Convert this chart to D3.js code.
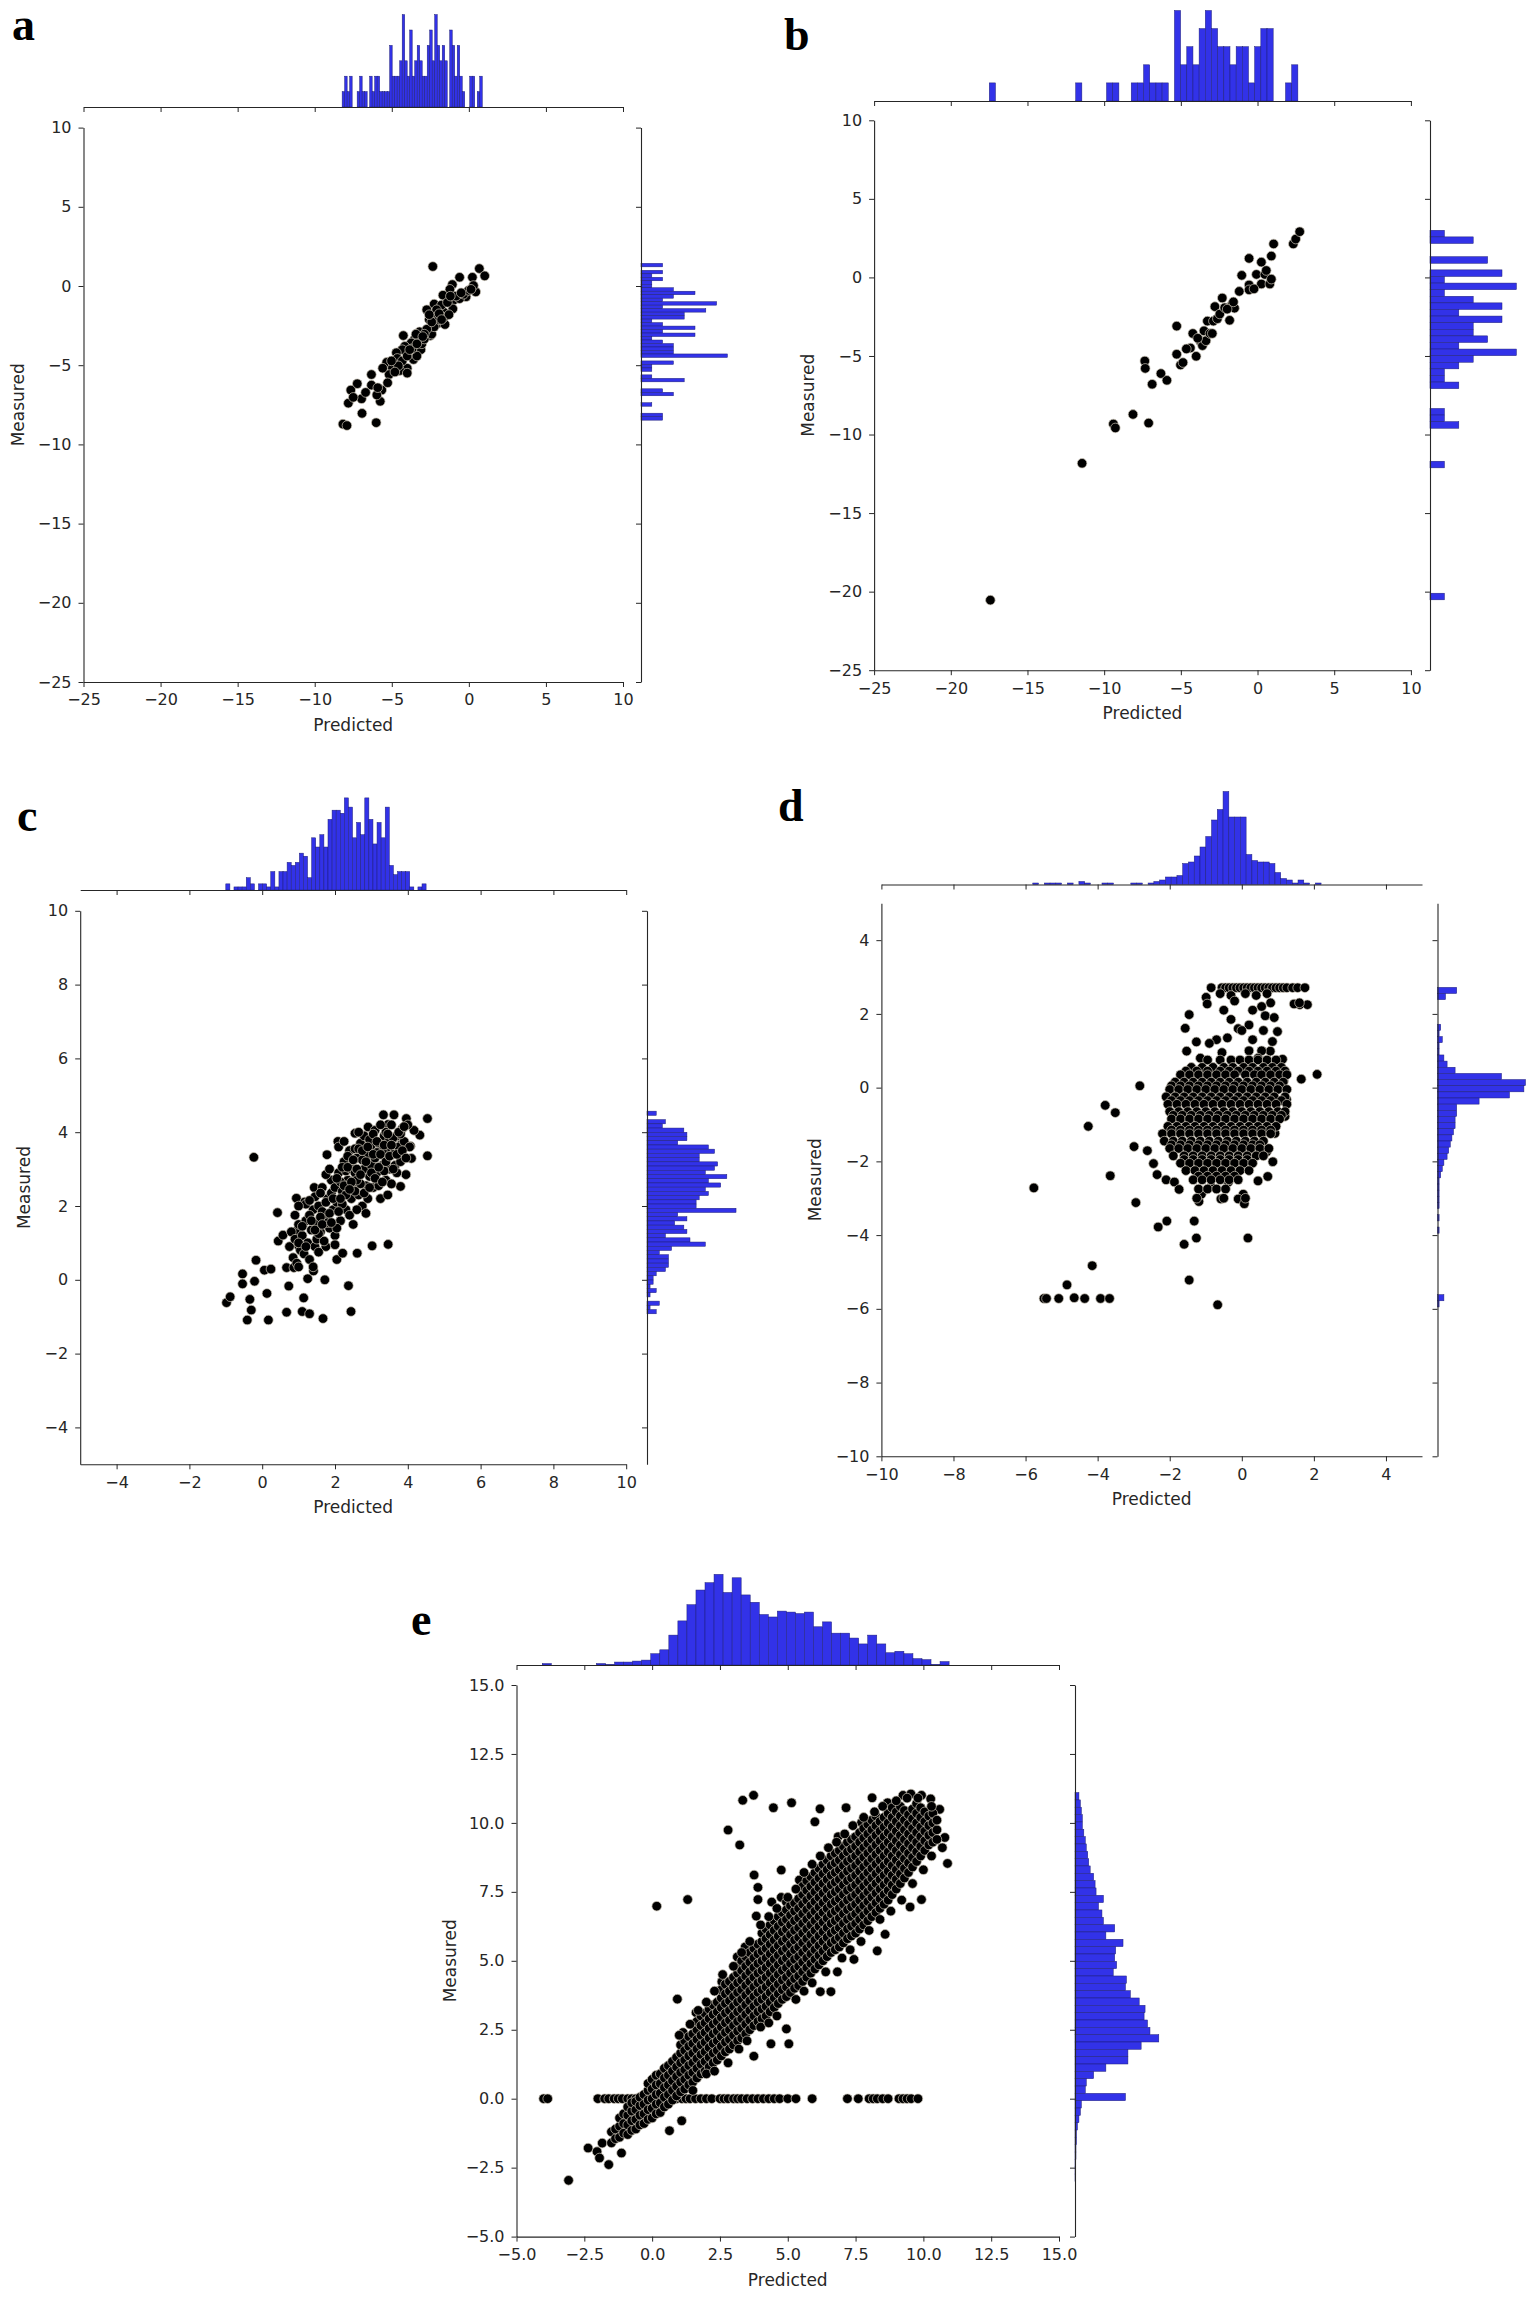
<!DOCTYPE html>
<html><head><meta charset="utf-8">
<script src="https://cdn.jsdelivr.net/npm/d3@7"></script>
<style>body{margin:0;background:#fff;} svg{display:block;background:#fff;}</style>
</head><body>
<svg id="chart" width="1534" height="2299"></svg>
<script>
// ---------------- DATA ----------------
const ticksAB = [-25,-20,-15,-10,-5,0,5,10];
const ticksC = [-4,-2,0,2,4,6,8,10];
const ticksD = [-10,-8,-6,-4,-2,0,2,4];
const ticksE = [-5,-2.5,0,2.5,5,7.5,10,12.5,15];

// panel a
const aPoints = [[-2.34,1.23],[-0.6,0.55],[0.23,0.55],[0.68,1.1],[1.03,0.64],[0.45,-0.37],[-0.18,-0.68],[-1.07,0.09],[-1.23,-0.21],[-1.68,-0.58],[-0.98,-0.89],[-0.6,-0.8],[-1.04,-1.44],[-1.61,-1.66],[-2.25,-1.14],[-2.73,-1.5],[-1.77,-1.2],[-2.19,-1.81],[-2.57,-2.12],[-2.0,-2.36],[-1.55,-2.43],[-2.5,-3.13],[-3.2,-2.89],[-3.52,-3.35],[-4.25,-3.13],[-3.74,-3.59],[-4.16,-3.81],[-3.11,-4.02],[-3.59,-4.64],[-4.32,-4.02],[-4.7,-4.21],[-4.7,-4.64],[-5.33,-4.82],[-4.96,-5.19],[-5.17,-5.59],[-4.0,-5.19],[-4.48,-5.34],[-6.32,-5.59],[-5.65,-6.57],[-5.75,-7.28],[-5.97,-6.88],[-6.32,-6.26],[-6.96,-7.12],[-7.24,-6.17],[-7.66,-6.57],[-7.82,-7.4],[-6.93,-8.04],[-6.01,-8.63],[-8.17,-8.72],[-7.91,-8.81],[-4.64,-4.57],[-4.32,-4.73],[-4.0,-4.42],[-3.37,-4.42],[-3.68,-3.96],[-3.05,-3.65],[-2.89,-3.35],[-2.41,-3.04],[-2.25,-2.58],[-1.93,-2.12],[-1.61,-1.97],[-1.29,-1.81],[-1.39,-1.04],[-0.82,-0.64],[-0.34,-0.52],[-0.02,-0.28],[0.3,0.03],[-4.0,-5.5],[-4.57,-5.04],[-5.02,-4.73],[-2.73,-2.73],[-2.41,-2.27],[-2.09,-1.5],[-0.5,-0.43],[0.14,-0.21],[-1.2,-0.64],[-2.89,-3.04],[-3.84,-4.02],[-3.37,-3.65],[-3.43,-3.04],[-2.99,-3.19],[-4.8,-5.43],[-5.59,-5.19],[-5.27,-6.11],[-5.91,-6.42],[-7.5,-7.03],[-6.7,-6.72],[-2.57,-1.81],[-1.93,-1.75],[-1.77,-2.12]];
const aTopLo = -8.22, aTopW = 0.1623;
const aTopCounts = [1,2,1,2,0,0,1,2,1,1,0,2,1,2,2,1,1,1,1,4,2,2,2,3,6,3,2,5,2,3,4,3,2,2,4,5,3,6,4,3,4,3,0,5,4,2,4,2,1,0,0,2,2,0,1,2];
const aRightHi = 1.43, aRightW = 0.22;   // counts listed from the highest bin downwards
const aRightCounts = [2,0,2,1,2,1,1,3,5,3,2,7,2,6,4,4,1,2,5,2,5,1,2,3,3,3,8,0,3,1,1,0,1,4,0,0,2,3,0,0,1,0,0,2,2];

// panel b
const bPoints = [[-17.42,-20.54],[-11.44,-11.83],[-9.4,-9.33],[-9.27,-9.58],[-7.1,-9.27],[-8.12,-8.72],[-7.35,-5.32],[-7.32,-5.79],[-6.87,-6.8],[-6.3,-6.12],[-5.91,-6.55],[-5.27,-3.1],[-5.27,-4.89],[-5.02,-5.57],[-4.86,-5.42],[-4.38,-4.49],[-4.22,-3.57],[-4.0,-5.02],[-3.75,-4.03],[-3.59,-4.34],[-3.49,-3.4],[-3.36,-4.03],[-3.27,-2.78],[-3.1,-3.57],[-2.95,-3.57],[-2.88,-2.78],[-2.78,-1.86],[-2.62,-2.63],[-2.46,-2.33],[-2.3,-1.31],[-2.14,-1.93],[-1.82,-2.73],[-1.66,-1.71],[-1.5,-1.96],[-1.57,-1.56],[-1.19,-0.89],[-1.03,0.13],[-0.55,1.21],[-0.55,-0.48],[-0.55,-0.79],[-0.07,0.19],[0.25,0.97],[0.25,-0.42],[0.48,0.19],[0.57,0.44],[0.8,-0.42],[0.9,-0.11],[0.9,1.36],[1.05,2.13],[2.33,2.13],[2.49,2.44],[2.75,2.91],[-4.64,-4.55],[-3.9,-3.87],[-1.98,-2.02],[-0.23,-0.73]];
const bTopLo = -17.49, bTopW = 0.4024;
const bTopCounts = [1,0,0,0,0,0,0,0,0,0,0,0,0,0,1,0,0,0,0,1,1,0,0,1,1,2,1,1,1,0,5,2,3,2,4,5,4,3,3,2,3,3,1,3,4,4,0,0,1,2];
const bRightHi = 3.0, bRightW = 0.42;
const bRightCounts = [1,3,0,0,4,0,5,1,6,1,3,5,2,5,3,3,4,2,6,3,2,1,1,2,0,0,0,1,1,2,0,0,0,0,0,1,0,0,0,0,0,0,0,0,0,0,0,0,0,0,0,0,0,0,0,1];

// panel c
const cOutliers = [[-0.23,3.32],[-0.98,-0.62],[-0.88,-0.46],[-0.54,0.16],[-0.54,-0.11],[-0.41,-1.09],[-0.34,-0.53],[-0.3,-0.82],[-0.21,-0.04],[-0.17,0.53],[0.13,-0.37],[0.17,-1.09],[0.06,0.26],[0.24,0.29],[0.42,1.82],[0.44,1.05],[0.57,1.21],[0.67,0.33],[0.67,-0.88],[0.73,-0.17],[0.87,0.33],[0.94,1.32],[0.94,2.21],[1.0,0.92],[1.1,-0.86],[1.14,-0.49],[1.17,2.11],[1.25,0.03],[1.3,-0.92],[1.41,0.24],[1.43,2.5],[1.67,-1.05],[1.72,0.0],[1.78,3.39],[2.05,0.55],[2.21,0.72],[2.37,-0.16],[2.44,-0.86],[2.61,0.72],[3.02,0.92],[3.46,0.96],[3.8,2.53],[4.1,3.29],[4.54,3.36],[4.54,4.37],[4.33,3.92],[3.96,4.37],[3.62,4.47],[3.33,4.47],[2.91,4.14],[2.55,3.97],[2.08,3.75],[3.46,4.21],[4.17,4.05],[4.07,3.62],[3.83,3.68]];
const cCloud = [[0.75,0.9],[0.8,1.3],[0.85,0.6],[0.9,1.1],[0.95,0.45],[1.0,1.5],[0.9,1.75],[1.05,0.8],[1.0,0.35],[1.1,1.2],[1.15,0.7],[1.2,1.6],[1.25,1.0],[1.3,0.55],[1.35,1.35],[1.4,1.9],[1.45,0.9],[1.2,2.05],[1.3,1.75],[1.5,1.55],[1.4,0.35],[1.1,1.45],[1.5,1.1],[1.45,2.25],[1.55,2.0],[1.6,1.3],[1.65,2.5],[1.7,1.7],[1.75,0.9],[1.8,2.2],[1.85,1.4],[1.9,2.7],[1.95,1.9],[1.6,2.35],[1.7,1.05],[1.8,1.55],[1.9,2.35],[2.0,1.2],[1.75,2.85],[1.55,0.75],[1.65,1.85],[1.85,3.0],[2.0,2.5],[2.05,2.1],[2.1,2.9],[2.15,1.6],[2.2,2.4],[2.25,3.2],[2.3,1.9],[2.35,2.7],[2.4,3.5],[2.45,2.2],[2.5,1.5],[2.1,3.6],[2.2,2.05],[2.3,2.95],[2.4,1.75],[2.45,3.0],[2.05,1.4],[2.15,2.65],[2.35,3.35],[2.5,2.6],[2.25,3.75],[2.0,0.95],[2.55,2.9],[2.6,3.3],[2.65,2.3],[2.7,3.7],[2.75,2.0],[2.8,3.0],[2.85,2.55],[2.9,3.4],[2.95,2.8],[3.0,3.65],[2.6,1.9],[2.7,2.6],[2.8,3.9],[2.9,2.2],[3.0,3.1],[2.55,3.55],[2.65,4.0],[2.75,3.25],[2.85,1.8],[2.95,3.8],[2.6,2.7],[3.05,2.5],[3.1,3.3],[3.15,2.9],[3.2,3.7],[3.25,2.2],[3.3,3.1],[3.35,3.9],[3.4,2.7],[3.45,3.5],[3.5,3.0],[3.1,4.05],[3.2,2.55],[3.3,3.5],[3.4,4.0],[3.45,2.3],[3.05,3.95],[3.15,3.45],[3.25,4.2],[3.35,2.95],[3.5,3.8],[3.55,2.6],[3.6,3.4],[3.65,3.1],[3.7,3.9],[3.75,3.6],[3.8,3.2],[3.85,4.1],[3.9,3.75],[3.95,2.85],[4.0,4.2],[3.6,3.85],[3.7,2.9],[3.55,4.2],[3.8,3.95],[4.05,3.6],
 [1.0,1.0],[1.2,0.9],[1.35,1.6],[1.55,1.25],[1.6,1.7],[1.75,2.1],[1.85,1.8],[1.95,2.2],[2.05,2.75],[2.1,1.85],[2.2,3.05],[2.25,2.55],[2.3,2.3],[2.35,3.05],[2.45,2.65],[2.5,3.25],[2.55,2.4],[2.6,3.0],[2.65,3.55],[2.7,2.85],[2.75,3.5],[2.8,2.35],[2.85,3.2],[2.9,3.6],[2.95,2.5],[3.0,2.9],[3.05,3.4],[3.1,2.75],[3.15,3.75],[3.2,3.05],[3.25,3.4],[3.3,2.65],[3.35,3.65],[3.4,3.2],[3.45,3.95],[3.5,3.35],[3.55,3.65],[3.6,3.0],[3.7,3.4],[3.75,4.0],[3.85,3.5],[3.9,4.15],[3.95,3.3],[1.45,1.35],[1.65,1.5],[1.9,1.55],[2.15,2.2],[2.4,2.45],[1.3,2.15],[1.0,2.0]];
const cTopLo = -1.0, cTopW = 0.1123;
const cTopCounts = [2,0,1,1,1,4,2,0,2,2,1,6,1,6,6,9,8,9,12,11,4,17,14,18,14,23,26,26,25,30,27,17,22,18,30,23,15,22,17,27,8,5,6,6,6,1,0,1,2];
const cRightHi = 4.57, cRightW = 0.1144;
const cRightCounts = [3,0,6,5,12,13,13,10,20,22,17,17,23,22,19,26,20,24,19,20,17,16,16,29,10,13,9,12,13,6,14,19,8,4,7,7,7,6,3,2,2,1,3,1,0,4,1,3];

// panel d
const dOutliers = [[-5.77,-2.72],[-5.49,-5.72],[-5.42,-5.72],[-5.08,-5.72],[-4.85,-5.35],[-4.65,-5.7],[-4.36,-5.72],[-4.15,-4.83],[-3.92,-5.72],[-3.67,-5.72],[-4.26,-1.05],[-3.79,-0.48],[-3.51,-0.68],[-3.65,-2.39],[-2.83,0.05],[-2.99,-1.6],[-2.94,-3.12],[-2.62,-1.71],[-2.45,-2.06],[-2.35,-2.36],[-2.32,-3.78],[-2.08,-3.62],[-2.1,-2.5],[-1.6,-4.25],[-1.32,-3.62],[-1.26,-4.08],[-1.46,-5.22],[-0.67,-5.89],[0.17,-4.08],[0.04,-2.89],[-0.1,-3.02],[0.07,-3.15],[0.86,-2.01],[0.72,-2.41],[1.65,0.23],[2.09,0.36],[1.61,2.25],[1.82,2.25],[-1.46,1.98],[-1.57,1.61],[-1.53,0.99],[-1.26,1.24],[-0.99,2.45],[-0.96,2.27],[0.99,1.52],[0.79,0.99],[1.13,0.77],[1.16,0.18],[1.24,-0.32],[1.2,-0.78],[-1.19,-3.09],[-1.12,-2.89],[-0.85,-2.69],[-0.58,-3.02],[-0.37,-2.56],[0.45,-2.53],[0.69,-1.74],[0.92,-1.24],[-1.87,-2.56],[-1.74,-2.76]];
const dTopLineY = 2.71;
const dTopLineX = [-0.85,-0.55,-0.45,-0.35,-0.25,-0.15,-0.05,0.05,0.15,0.25,0.35,0.45,0.55,0.65,0.75,0.85,0.95,1.05,1.15,1.25,1.41,1.55,1.75];
const dNearTop = [[-0.6,2.55],[-0.3,2.5],[0.1,2.55],[0.4,2.5],[0.7,2.55],[0.8,2.3],[0.55,2.2],[0.3,2.1],[-0.2,2.35],[-0.5,2.1],[0.2,1.7],[0.65,1.95],[-0.1,1.6],[0.9,1.9],[-0.4,1.35],[-0.7,1.3],[0.0,1.55],[0.3,1.3],[0.55,1.0],[0.85,1.25],[0.6,1.55],[-0.3,1.85],[-0.9,1.2],[-1.15,0.8],[0.2,1.0],[0.45,0.8],[-0.55,0.95],[1.45,2.27],[1.6,2.3]];
const dCloudRows = [
 [0.75,[-0.95,-0.6,-0.3,-0.05,0.2,0.45,0.7,0.95]],
 [0.55,[-1.4,-1.1,-0.8,-0.5,-0.25,0.05,0.3,0.6,0.85,1.1]],
 [0.45,[-1.55,-1.25,-0.95,-0.6,-0.35,-0.1,0.2,0.45,0.7,0.95,1.2]],
 [0.35,[-1.7,-1.45,-1.2,-0.95,-0.7,-0.45,-0.2,0.1,0.35,0.55,0.8,1.05,1.25]],
 [0.15,[-1.85,-1.6,-1.35,-1.1,-0.85,-0.6,-0.35,-0.1,0.15,0.4,0.65,0.9,1.15]],
 [0.05,[-1.95,-1.7,-1.45,-1.2,-0.95,-0.7,-0.45,-0.2,0.05,0.3,0.55,0.8,1.05]],
 [-0.05,[-2.0,-1.75,-1.5,-1.25,-1.0,-0.75,-0.5,-0.25,0.0,0.25,0.5,0.75,1.0,1.25]],
 [-0.25,[-2.1,-1.85,-1.6,-1.35,-1.1,-0.85,-0.6,-0.35,-0.1,0.15,0.4,0.65,0.9,1.2]],
 [-0.35,[-1.95,-1.7,-1.45,-1.2,-0.95,-0.7,-0.45,-0.2,0.05,0.3,0.55,0.8,1.1]],
 [-0.45,[-2.05,-1.8,-1.55,-1.3,-1.05,-0.8,-0.55,-0.3,-0.05,0.2,0.45,0.7,0.95,1.25]],
 [-0.65,[-2.0,-1.75,-1.5,-1.25,-1.0,-0.75,-0.5,-0.25,0.0,0.25,0.5,0.75,1.0,1.2]],
 [-0.75,[-1.9,-1.65,-1.4,-1.15,-0.9,-0.65,-0.4,-0.15,0.1,0.35,0.6,0.85,1.1]],
 [-0.85,[-1.95,-1.7,-1.45,-1.2,-0.95,-0.7,-0.45,-0.2,0.05,0.3,0.55,0.8,1.05]],
 [-1.05,[-2.05,-1.8,-1.55,-1.3,-1.05,-0.8,-0.55,-0.3,-0.05,0.2,0.45,0.7,0.95]],
 [-1.15,[-1.95,-1.7,-1.45,-1.2,-0.95,-0.7,-0.45,-0.2,0.05,0.3,0.55,0.8]],
 [-1.25,[-2.2,-1.95,-1.7,-1.45,-1.2,-0.95,-0.7,-0.45,-0.2,0.05,0.3,0.55,0.8]],
 [-1.45,[-2.15,-1.9,-1.65,-1.4,-1.15,-0.9,-0.65,-0.4,-0.15,0.1,0.35,0.6]],
 [-1.55,[-1.95,-1.7,-1.45,-1.2,-0.95,-0.7,-0.45,-0.2,0.05,0.3,0.5]],
 [-1.65,[-2.0,-1.75,-1.5,-1.25,-1.0,-0.75,-0.5,-0.25,0.0,0.25,0.5,0.75]],
 [-1.85,[-1.9,-1.6,-1.35,-1.1,-0.85,-0.6,-0.35,-0.1,0.15,0.4,0.6]],
 [-1.95,[-1.6,-1.35,-1.1,-0.85,-0.6,-0.35,-0.1,0.15]],
 [-2.05,[-1.7,-1.45,-1.2,-0.95,-0.7,-0.45,-0.2,0.05,0.3]],
 [-2.25,[-1.55,-1.3,-1.05,-0.8,-0.55,-0.3,-0.05,0.2]],
 [-2.4,[-1.2,-0.95,-0.7,-0.45,-0.2]],
 [-2.5,[-1.35,-1.1,-0.85,-0.6,-0.35,-0.1]],
 [-2.75,[-1.2,-0.95,-0.7,-0.45]],
 [-3.0,[-1.25,-0.5,0.1]]
];
const dTopLo = -5.8, dTopW = 0.16;
const dTopCounts = [1,0,1,1,1,0,1,0,2,1,0,0,1,1,0,0,0,1,1,0,1,2,3,5,5,6,14,15,19,25,32,43,50,62,45,45,45,20,16,15,15,14,8,4,3,1,3,1,0,1];
const dRightHi = 2.72, dRightW = 0.1667;
const dRightCounts = [12,5,0,0,0,0,2,1,3,1,1,4,6,11,40,55,54,45,26,12,12,11,11,10,9,8,7,6,4,3,2,1,1,1,1,1,0,1,0,1,0,0,0,0,0,0,0,0,0,0,4,1];

// panel e
const eOutliers = [[-3.08,-2.96],[-2.36,-1.79],[-2.03,-1.92],[-1.94,-2.15],[-1.6,-2.39],[-1.84,-1.61],[-1.13,-1.97],[0.93,3.61],[0.17,6.98],[1.31,7.22],[2.8,9.74],[3.23,9.2],[3.34,10.82],[3.74,11.0],[3.76,8.11],[3.9,7.66],[3.9,7.22],[4.47,10.55],[5.14,10.73],[4.76,8.29],[3.84,6.62],[4.76,7.3],[4.41,7.13],[4.95,7.13],[5.43,7.93],[6.0,10.04],[6.19,10.51],[6.86,9.5],[7.15,10.55],[7.72,10.01],[8.11,10.91],[8.68,10.73],[9.25,11.0],[9.54,11.05],[9.93,11.0],[10.27,10.87],[10.6,10.49],[10.79,9.47],[10.89,8.53],[9.93,7.22],[9.51,6.95],[8.59,5.96],[8.3,5.36],[7.44,5.05],[6.83,4.6],[6.2,3.88],[6.59,3.88],[4.95,2.53],[5.04,1.99],[4.38,1.99],[3.75,1.54],[3.05,2.44],[1.14,2.4],[1.62,3.12],[2.57,4.24],[3.14,5.14],[3.43,5.5],[0.64,-1.16],[1.09,-0.8]];
const eEdge = [[1.5,0.3],[2.0,0.9],[2.3,1.0],[2.8,1.3],[3.2,1.8],[3.5,2.1],[4.0,2.6],[4.3,2.75],[4.6,3.0],[5.3,3.6],[5.6,3.9],[5.9,4.2],[6.4,4.6],[7.0,5.1],[7.3,5.4],[7.7,5.7],[8.0,6.1],[8.4,6.5],[8.8,6.8],[9.2,7.2],[9.6,7.8],[10.0,8.3],[10.3,8.8],[10.7,9.1],
 [1.0,2.3],[1.4,2.7],[1.7,3.2],[2.0,3.5],[2.3,3.9],[2.6,4.5],[3.0,4.8],[3.3,5.3],[3.6,5.7],[4.0,6.3],[4.3,6.6],[4.6,6.9],[5.0,7.3],[5.3,7.6],[5.6,8.2],[5.9,8.5],[6.2,8.8],[6.5,9.1],[6.8,9.3],[7.1,9.6],[7.4,9.9],[7.8,10.2],[8.2,10.4],[8.5,10.6],[9.0,10.8],[9.4,10.9],[9.8,10.9],[10.3,10.6]];
const eZeroX = [-4.0,-3.85,-2.0,-1.75,-1.6,-1.4,-1.25,-1.1,-0.9,-0.75,-0.6,-0.45,-0.3,-0.15,0.0,0.15,0.3,0.55,0.75,0.9,1.1,1.25,1.4,1.6,1.8,2.0,2.2,2.5,2.65,2.8,3.0,3.15,3.3,3.5,3.7,3.9,4.1,4.3,4.5,4.7,5.0,5.3,5.9,7.2,7.6,8.0,8.15,8.3,8.5,8.7,9.1,9.25,9.4,9.55,9.8];
const eBandCols = [
 [-1.5,[-1.6,-1.2]],[-1.35,[-1.45,-1.1]],[-1.2,[-1.4,-1.0,-0.7]],[-1.05,[-1.25,-0.9,-0.55]],
 [-0.9,[-1.3,-0.95,-0.6,-0.3]],[-0.75,[-1.15,-0.8,-0.45,-0.15]],[-0.6,[-1.1,-0.75,-0.4,-0.1]],[-0.45,[-0.95,-0.6,-0.25,0.05]],
 [-0.3,[-0.9,-0.55,-0.2,0.15]],[-0.15,[-0.75,-0.4,-0.05,0.3,0.55]],[0.0,[-0.7,-0.35,0.0,0.35,0.7]],[0.15,[-0.55,-0.2,0.15,0.5,0.85]],
 [0.3,[-0.5,-0.15,0.2,0.55,0.9]],[0.45,[-0.3,0.05,0.4,0.75,1.1]],[0.6,[-0.2,0.15,0.5,0.85,1.2]],[0.75,[-0.05,0.3,0.65,1.0,1.35]],
 [0.9,[0.1,0.45,0.8,1.15,1.5]],[1.05,[0.25,0.6,0.95,1.3,1.65,1.95]],[1.2,[0.35,0.7,1.05,1.4,1.75,2.1]],[1.35,[0.5,0.85,1.2,1.55,1.9,2.25]],
 [1.5,[0.6,0.95,1.3,1.65,2.0,2.35]],[1.65,[0.75,1.1,1.45,1.8,2.15,2.5,2.8]],[1.8,[0.9,1.25,1.6,1.95,2.3,2.65,3.0]],[1.95,[1.0,1.35,1.7,2.05,2.4,2.75,3.1]],
 [2.1,[1.15,1.5,1.85,2.2,2.55,2.9,3.25]],[2.25,[1.3,1.65,2.0,2.35,2.7,3.05,3.4]],[2.4,[1.4,1.75,2.1,2.45,2.8,3.15,3.5]],[2.55,[1.55,1.9,2.25,2.6,2.95,3.3,3.65,3.95]],
 [2.7,[1.7,2.05,2.4,2.75,3.1,3.45,3.8,4.15]],[2.85,[1.8,2.15,2.5,2.85,3.2,3.55,3.9,4.25]],[3.0,[1.95,2.3,2.65,3.0,3.35,3.7,4.05,4.4]],[3.15,[2.1,2.45,2.8,3.15,3.5,3.85,4.2,4.55,4.8]],
 [3.3,[2.2,2.55,2.9,3.25,3.6,3.95,4.3,4.65,5.0]],[3.45,[2.35,2.7,3.05,3.4,3.75,4.1,4.45,4.8,5.15]],[3.6,[2.5,2.85,3.2,3.55,3.9,4.25,4.6,4.95,5.3]],[3.75,[2.65,3.0,3.35,3.7,4.05,4.4,4.75,5.1,5.45]],
 [3.9,[2.8,3.15,3.5,3.85,4.2,4.55,4.9,5.25,5.6]],[4.05,[2.9,3.25,3.6,3.95,4.3,4.65,5.0,5.35,5.7,6.0]],[4.2,[3.0,3.35,3.7,4.05,4.4,4.75,5.1,5.45,5.8,6.15]],[4.35,[3.15,3.5,3.85,4.2,4.55,4.9,5.25,5.6,5.95,6.3]],
 [4.5,[3.3,3.65,4.0,4.35,4.7,5.05,5.4,5.75,6.1,6.45]],[4.65,[3.45,3.8,4.15,4.5,4.85,5.2,5.55,5.9,6.25,6.6]],[4.8,[3.6,3.95,4.3,4.65,5.0,5.35,5.7,6.05,6.4,6.75]],[4.95,[3.7,4.05,4.4,4.75,5.1,5.45,5.8,6.15,6.5,6.85]],
 [5.1,[3.85,4.2,4.55,4.9,5.25,5.6,5.95,6.3,6.65,7.0]],[5.25,[4.0,4.35,4.7,5.05,5.4,5.75,6.1,6.45,6.8,7.1]],[5.4,[4.1,4.45,4.8,5.15,5.5,5.85,6.2,6.55,6.9,7.25]],[5.55,[4.25,4.6,4.95,5.3,5.65,6.0,6.35,6.7,7.05,7.4,7.7]],
 [5.7,[4.4,4.75,5.1,5.45,5.8,6.15,6.5,6.85,7.2,7.55,7.9]],[5.85,[4.55,4.9,5.25,5.6,5.95,6.3,6.65,7.0,7.35,7.7,8.05]],[6.0,[4.7,5.05,5.4,5.75,6.1,6.45,6.8,7.15,7.5,7.85,8.2]],[6.15,[4.85,5.2,5.55,5.9,6.25,6.6,6.95,7.3,7.65,8.0,8.35]],
 [6.3,[5.0,5.35,5.7,6.05,6.4,6.75,7.1,7.45,7.8,8.15,8.5]],[6.45,[5.15,5.5,5.85,6.2,6.55,6.9,7.25,7.6,7.95,8.3,8.65]],[6.6,[5.3,5.65,6.0,6.35,6.7,7.05,7.4,7.75,8.1,8.45,8.8]],[6.75,[5.4,5.75,6.1,6.45,6.8,7.15,7.5,7.85,8.2,8.55,8.9]],
 [6.9,[5.5,5.85,6.2,6.55,6.9,7.25,7.6,7.95,8.3,8.65,9.0]],[7.05,[5.65,6.0,6.35,6.7,7.05,7.4,7.75,8.1,8.45,8.8,9.15]],[7.2,[5.8,6.15,6.5,6.85,7.2,7.55,7.9,8.25,8.6,8.95,9.3]],[7.35,[5.9,6.25,6.6,6.95,7.3,7.65,8.0,8.35,8.7,9.05,9.4]],
 [7.5,[6.0,6.35,6.7,7.05,7.4,7.75,8.1,8.45,8.8,9.15,9.5]],[7.65,[6.15,6.5,6.85,7.2,7.55,7.9,8.25,8.6,8.95,9.3,9.65]],[7.8,[6.3,6.65,7.0,7.35,7.7,8.05,8.4,8.75,9.1,9.45,9.8]],[7.95,[6.45,6.8,7.15,7.5,7.85,8.2,8.55,8.9,9.25,9.6,9.95]],
 [8.1,[6.6,6.95,7.3,7.65,8.0,8.35,8.7,9.05,9.4,9.75,10.1]],[8.25,[6.75,7.1,7.45,7.8,8.15,8.5,8.85,9.2,9.55,9.9,10.25]],[8.4,[6.9,7.25,7.6,7.95,8.3,8.65,9.0,9.35,9.7,10.05]],[8.55,[7.05,7.4,7.75,8.1,8.45,8.8,9.15,9.5,9.85,10.2]],
 [8.7,[7.2,7.55,7.9,8.25,8.6,8.95,9.3,9.65,10.0,10.35]],[8.85,[7.4,7.75,8.1,8.45,8.8,9.15,9.5,9.85,10.2,10.55]],[9.0,[7.6,7.95,8.3,8.65,9.0,9.35,9.7,10.05,10.4]],[9.15,[7.8,8.15,8.5,8.85,9.2,9.55,9.9,10.25,10.6]],
 [9.3,[8.0,8.35,8.7,9.05,9.4,9.75,10.1,10.45]],[9.45,[8.2,8.55,8.9,9.25,9.6,9.95,10.3]],[9.6,[8.4,8.75,9.1,9.45,9.8,10.15,10.5]],[9.75,[8.6,8.95,9.3,9.65,10.0,10.35,10.7]],
 [9.9,[8.8,9.15,9.5,9.85,10.2,10.55]],[10.05,[9.0,9.35,9.7,10.05,10.4]],[10.2,[9.2,9.55,9.9,10.25]],[10.35,[9.3,9.65,10.0,10.35]],[10.5,[9.4,9.75,10.1]]
];
const eTopLo = -4.05, eTopW = 0.3333;
const eTopCounts = [3,0,0,0,0,0,3,1,6,6,8,10,23,31,61,90,123,153,168,185,148,178,143,128,103,98,110,108,105,108,78,88,65,65,55,43,61,43,25,28,23,13,11,1,7];
const eRightHi = 11.1, eRightW = 0.266;
const eRightCounts = [8,11,13,15,15,18,21,23,26,28,31,38,41,43,58,48,55,58,81,63,98,83,81,85,78,105,103,113,131,143,141,148,153,171,135,108,108,63,38,23,21,103,13,11,8,5,3,3,2,2,1,1,1];

const xLabel = "Predicted", yLabel = "Measured";

// ---------------- ASSEMBLY & LAYOUT ----------------
const cPoints = cOutliers.concat(cCloud);
const dPoints = dOutliers.concat(dTopLineX.map(x => [x, dTopLineY]), dNearTop,
  dCloudRows.flatMap(([y, xs]) => xs.map(x => [x, y])));
const ePoints = eOutliers.concat(eZeroX.map(x => [x, 0]),
  eBandCols.flatMap(([x, ys]) => ys.map(y => [x, y])), eEdge);

const panels = [
 {label:"a", lx:12, ly:40, x0:83.5, x1:623, y0:127.6, y1:682, topY:107, rightX:641, topUnit:15.4, rightUnit:10.8,
  dom:[-25,10], ticks:ticksAB, fmt:d3.format("d"), points:aPoints, ylabOff:66,
  top:{lo:aTopLo,w:aTopW,c:aTopCounts}, right:{hi:aRightHi,w:aRightW,c:aRightCounts}},
 {label:"b", lx:784, ly:50, x0:874.1, x1:1410.9, y0:120.3, y1:670.2, topY:101, rightX:1430, topUnit:18.1, rightUnit:14.4,
  dom:[-25,10], ticks:ticksAB, fmt:d3.format("d"), points:bPoints, ylabOff:66,
  top:{lo:bTopLo,w:bTopW,c:bTopCounts}, right:{hi:bRightHi,w:bRightW,c:bRightCounts}},
 {label:"c", lx:17, ly:831, x0:80.2, x1:626.2, y0:910.8, y1:1464.3, topY:890, rightX:647, topUnit:3.07, rightUnit:3.07,
  dom:[-5,10], ticks:ticksC, fmt:d3.format("d"), points:cPoints, ylabOff:56.5,
  top:{lo:cTopLo,w:cTopW,c:cTopCounts}, right:{hi:cRightHi,w:cRightW,c:cRightCounts}},
 {label:"d", lx:778, ly:821, x0:881.4, x1:1422, y0:903.3, y1:1456.3, topY:884.5, rightX:1437.5, topUnit:1.5, rightUnit:1.6,
  dom:[-10,5], ticks:ticksD, fmt:d3.format("d"), points:dPoints, ylabOff:66,
  top:{lo:dTopLo,w:dTopW,c:dTopCounts}, right:{hi:dRightHi,w:dRightW,c:dRightCounts}},
 {label:"e", lx:411, ly:1635, x0:516.5, x1:1059, y0:1685, y1:2236.6, topY:1665, rightX:1075, topUnit:0.49, rightUnit:0.49,
  dom:[-5,15], ticks:ticksE, fmt:d3.format(".1f"), points:ePoints, ylabOff:66.5,
  top:{lo:eTopLo,w:eTopW,c:eTopCounts}, right:{hi:eRightHi,w:eRightW,c:eRightCounts}}
];

const svg = d3.select("#chart");
const INK = "#262626";
const BAR_FILL = "#3232e8", BAR_EDGE = "#1e1e78";

function styleAxis(g) {
  g.select(".domain").attr("stroke", INK).attr("stroke-width", 1.1);
  g.selectAll(".tick line").attr("stroke", INK).attr("stroke-width", 1);
  g.selectAll(".tick text").attr("fill", INK).attr("font-family", "DejaVu Sans").attr("font-size", "16px");
}

panels.forEach(p => {
  const g = svg.append("g");
  const x = d3.scaleLinear().domain(p.dom).range([p.x0, p.x1]);
  const y = d3.scaleLinear().domain(p.dom).range([p.y1, p.y0]);

  // top marginal histogram
  const hTop = d3.scaleLinear().domain([0, 1]).range([p.topY, p.topY - p.topUnit]);
  g.append("g").selectAll("rect").data(p.top.c.map((c, i) => ({c, a: p.top.lo + i * p.top.w})).filter(d => d.c > 0))
    .join("rect")
    .attr("x", d => x(d.a)).attr("width", d => x(d.a + p.top.w) - x(d.a))
    .attr("y", d => hTop(d.c)).attr("height", d => p.topY - hTop(d.c))
    .attr("fill", BAR_FILL).attr("stroke", BAR_EDGE).attr("stroke-width", 0.5);

  // right marginal histogram (counts from the highest bin downward)
  const hR = d3.scaleLinear().domain([0, 1]).range([p.rightX, p.rightX + p.rightUnit]);
  g.append("g").selectAll("rect").data(p.right.c.map((c, i) => ({c, top: p.right.hi - i * p.right.w})).filter(d => d.c > 0))
    .join("rect")
    .attr("x", p.rightX).attr("width", d => hR(d.c) - p.rightX)
    .attr("y", d => y(d.top)).attr("height", d => y(d.top - p.right.w) - y(d.top))
    .attr("fill", BAR_FILL).attr("stroke", BAR_EDGE).attr("stroke-width", 0.5);

  // marginal axes (ticks only)
  g.append("g").attr("transform", `translate(0,${p.topY})`)
    .call(d3.axisBottom(x).tickValues(p.ticks).tickSize(5).tickSizeOuter(0).tickFormat(""))
    .call(styleAxis);
  g.append("g").attr("transform", `translate(${p.rightX},0)`)
    .call(d3.axisLeft(y).tickValues(p.ticks).tickSize(5).tickSizeOuter(0).tickFormat(""))
    .call(styleAxis);

  // main axes
  g.append("g").attr("transform", `translate(0,${p.y1})`)
    .call(d3.axisBottom(x).tickValues(p.ticks).tickSize(5).tickPadding(7).tickSizeOuter(0).tickFormat(p.fmt))
    .call(styleAxis);
  g.append("g").attr("transform", `translate(${p.x0},0)`)
    .call(d3.axisLeft(y).tickValues(p.ticks).tickSize(5).tickPadding(7).tickSizeOuter(0).tickFormat(p.fmt))
    .call(styleAxis);

  // scatter
  g.append("g").selectAll("circle").data(p.points).join("circle")
    .attr("cx", d => x(d[0])).attr("cy", d => y(d[1])).attr("r", 4.8)
    .attr("fill", "#000").attr("stroke", "#cfc7b9").attr("stroke-width", 0.7);

  // axis labels
  g.append("text").attr("x", (p.x0 + p.x1) / 2).attr("y", p.y1 + 49)
    .attr("text-anchor", "middle").attr("font-family", "DejaVu Sans").attr("font-size", "17px").attr("fill", INK)
    .text(xLabel);
  const bx = p.x0 - p.ylabOff + 6, by = (p.y0 + p.y1) / 2;
  g.append("text").attr("transform", `translate(${bx},${by}) rotate(-90)`)
    .attr("text-anchor", "middle").attr("font-family", "DejaVu Sans").attr("font-size", "17px").attr("fill", INK)
    .text(yLabel);

  // panel letter
  g.append("text").attr("x", p.lx).attr("y", p.ly)
    .attr("font-family", "Liberation Serif").attr("font-weight", "bold").attr("font-size", "46px").attr("fill", "#000")
    .text(p.label);
});
</script>
</body></html>
